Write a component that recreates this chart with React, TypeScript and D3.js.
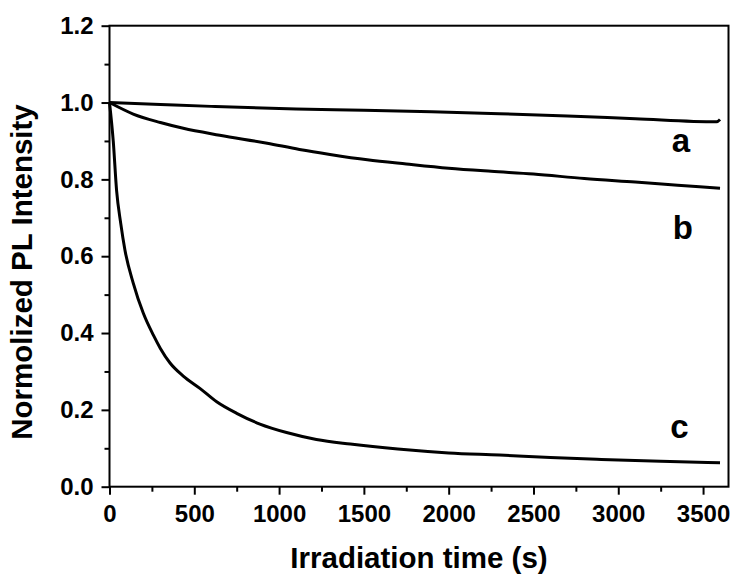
import React, { useEffect, useRef } from "react";
import * as d3 from "d3";

// irradiation time (s) and normalized PL intensity
const timeA = [0, 300, 600, 1100, 1500, 1900, 2300, 2700, 3100, 3580, 3600];
const valA = [1.0, 0.995, 0.99, 0.983, 0.98, 0.976, 0.971, 0.965, 0.958, 0.95, 0.956];

const timeB = [0, 140, 300, 435, 650, 930, 1120, 1300, 1520, 1750, 2000, 2250, 2500, 2800, 3100, 3350, 3600];
const valB = [1.0, 0.97, 0.948, 0.933, 0.915, 0.894, 0.878, 0.865, 0.851, 0.84, 0.829, 0.821, 0.814, 0.802, 0.793, 0.785, 0.777];

const timeC = [0, 22, 42, 66, 91, 140, 199, 258, 300, 357, 435, 533, 632, 750, 887, 1044, 1220, 1420, 1700, 2000, 2300, 2600, 2900, 3250, 3600];
const valC = [1.0, 0.9, 0.77, 0.686, 0.616, 0.53, 0.452, 0.395, 0.36, 0.322, 0.288, 0.256, 0.221, 0.191, 0.163, 0.141, 0.123, 0.111, 0.098, 0.088, 0.0825, 0.076, 0.071, 0.066, 0.0625];

const xTicks = [0, 500, 1000, 1500, 2000, 2500, 3000, 3500];
const xMinor = [250, 750, 1250, 1750, 2250, 2750, 3250];
const yTicks = [0, 0.2, 0.4, 0.6, 0.8, 1.0, 1.2];
const yMinor = [0.1, 0.3, 0.5, 0.7, 0.9, 1.1];

// curve labels: [name, time, intensity]
const curveLabels: [string, number, number][] = [
  ["a", 3370, 0.87],
  ["b", 3380, 0.645],
  ["c", 3360, 0.127],
];

const width = 735;
const height = 575;
const margin = { top: 25.7, right: 6.5, bottom: 88.3, left: 109.5 };
const font = "Arial, 'Liberation Sans', sans-serif";

const App = () => {
  const svgRef = useRef<SVGSVGElement>(null);

  useEffect(() => {
    if (!svgRef.current) return;
    const svg = d3.select(svgRef.current);
    svg.selectAll("*").remove();

    const x = d3.scaleLinear().domain([0, 3650]).range([margin.left, width - margin.right]);
    const y = d3.scaleLinear().domain([0, 1.2]).range([height - margin.bottom, margin.top]);

    const series = [
      timeA.map((t, i) => [t, valA[i]]),
      timeB.map((t, i) => [t, valB[i]]),
      timeC.map((t, i) => [t, valC[i]]),
    ];

    const line = d3
      .line<number[]>()
      .x((d) => x(d[0]))
      .y((d) => y(d[1]))
      .curve(d3.curveMonotoneX);

    series.forEach((s) => {
      svg.append("path")
        .datum(s)
        .attr("fill", "none")
        .attr("stroke", "black")
        .attr("stroke-width", 3)
        .attr("stroke-linejoin", "round")
        .attr("d", line);
    });

    // frame
    svg.append("rect")
      .attr("x", x(0))
      .attr("y", y(1.2))
      .attr("width", x(3650) - x(0))
      .attr("height", y(0) - y(1.2))
      .attr("fill", "none")
      .attr("stroke", "black")
      .attr("stroke-width", 2);

    // x axis
    const xAxis = svg.append("g")
      .attr("transform", `translate(0,${y(0)})`)
      .call(d3.axisBottom(x).tickValues(xTicks).tickSize(8).tickPadding(10).tickFormat(d3.format("d")));
    xAxis.select(".domain").remove();
    xAxis.selectAll("line").attr("stroke-width", 2);
    xAxis.selectAll("text")
      .style("font-family", font)
      .style("font-weight", "bold")
      .style("font-size", "24px")
      .attr("fill", "black");

    const xMin = svg.append("g")
      .attr("transform", `translate(0,${y(0)})`)
      .call(d3.axisBottom(x).tickValues(xMinor).tickSize(5).tickFormat(() => ""));
    xMin.select(".domain").remove();
    xMin.selectAll("line").attr("stroke-width", 2);

    // y axis
    const yAxis = svg.append("g")
      .attr("transform", `translate(${x(0)},0)`)
      .call(d3.axisLeft(y).tickValues(yTicks).tickSize(8).tickPadding(8).tickFormat(d3.format(".1f")));
    yAxis.select(".domain").remove();
    yAxis.selectAll("line").attr("stroke-width", 2);
    yAxis.selectAll("text")
      .style("font-family", font)
      .style("font-weight", "bold")
      .style("font-size", "24px")
      .attr("fill", "black");

    const yMin = svg.append("g")
      .attr("transform", `translate(${x(0)},0)`)
      .call(d3.axisLeft(y).tickValues(yMinor).tickSize(5).tickFormat(() => ""));
    yMin.select(".domain").remove();
    yMin.selectAll("line").attr("stroke-width", 2);

    // curve labels
    svg.selectAll(".clabel")
      .data(curveLabels)
      .enter()
      .append("text")
      .attr("class", "clabel")
      .attr("x", (d) => x(d[1]))
      .attr("y", (d) => y(d[2]))
      .attr("text-anchor", "middle")
      .style("font-family", font)
      .style("font-weight", "bold")
      .style("font-size", "33px")
      .text((d) => d[0]);

    // axis titles
    svg.append("text")
      .attr("x", (x(0) + x(3650)) / 2)
      .attr("y", 568)
      .attr("text-anchor", "middle")
      .style("font-family", font)
      .style("font-weight", "bold")
      .style("font-size", "29.5px")
      .text("Irradiation time (s)");

    svg.append("text")
      .attr("transform", "rotate(-90)")
      .attr("x", -272)
      .attr("y", 32)
      .attr("text-anchor", "middle")
      .style("font-family", font)
      .style("font-weight", "bold")
      .style("font-size", "29.5px")
      .text("Normolized PL Intensity");
  }, []);

  return (
    <svg
      ref={svgRef}
      width={width}
      height={height}
      style={{ position: "absolute", left: 0, top: 0, background: "white" }}
    />
  );
};

export default App;
